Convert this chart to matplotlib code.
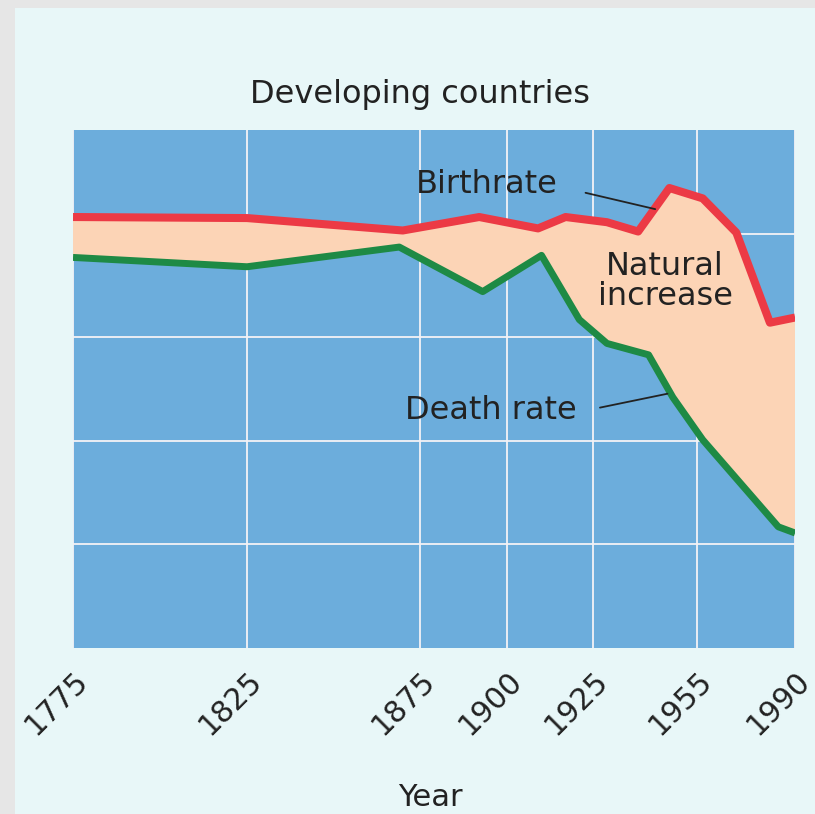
import numpy as np
import matplotlib
matplotlib.use("Agg")
import matplotlib.pyplot as plt
from matplotlib.patches import Rectangle

# ── Data (rates per 1000 population) ─────────────────────────────────────────
birth_years = [1775, 1825, 1870, 1892, 1909, 1917, 1929, 1938, 1947, 1957, 1969, 1981, 1990]
birth_rate  = [41.6, 41.5, 40.3, 41.6, 40.5, 41.6, 41.1, 40.2, 44.4, 43.4, 40.1, 31.4, 31.9]

death_years = [1775, 1825, 1869, 1893, 1910, 1921, 1929, 1941, 1948, 1957, 1984, 1990]
death_rate  = [37.7, 36.8, 38.7, 34.4, 37.9, 31.7, 29.4, 28.3, 24.2, 20.1, 11.7, 11.1]

tick_years = [1775, 1825, 1875, 1900, 1925, 1955, 1990]
tick_pos   = [0, 174, 347, 434, 520, 624, 722]   # uneven spacing of the year axis

# ── Palette ──────────────────────────────────────────────────────────────────
PAGE_BG  = "#E8F7F8"
BORDER   = "#E6E6E6"
PLOT_BG  = "#6CADDC"
GRID_C   = "#F4F2F6"
FILL_C   = "#FCD4B6"
BIRTH_C  = "#EC3A45"
DEATH_C  = "#1E8A45"
TEXT_C   = "#222222"

fig = plt.figure(figsize=(8.15, 8.14), dpi=100)
fig.patch.set_facecolor(PAGE_BG)
ax = fig.add_axes([0.0896, 0.2039, 0.886, 0.6364])


def fwd(x):
    return np.interp(x, tick_years, tick_pos)


def inv(x):
    return np.interp(x, tick_pos, tick_years)


ax.set_xscale("function", functions=(fwd, inv))
ax.set_xlim(1775, 1990)
ax.set_ylim(0, 50)
ax.set_facecolor(PLOT_BG)
for s in ax.spines.values():
    s.set_visible(False)

ax.set_axisbelow(True)
ax.set_xticks(tick_years)
ax.set_xticklabels([str(y) for y in tick_years], rotation=45, ha="right",
                   va="top", rotation_mode="anchor", fontsize=21.5, color=TEXT_C)
ax.set_yticks([10, 20, 30, 40])
ax.set_yticklabels([])
ax.tick_params(axis="x", length=0, pad=13)
ax.tick_params(axis="y", length=0)
ax.grid(True, color=GRID_C, lw=1.3)

# natural increase band between the two curves
poly_x = list(birth_years) + list(death_years[::-1])
poly_y = list(birth_rate) + list(death_rate[::-1])
ax.fill(poly_x, poly_y, color=FILL_C, lw=0, zorder=2)

ax.plot(birth_years, birth_rate, color=BIRTH_C, lw=5.8, zorder=3,
        solid_joinstyle="round", solid_capstyle="butt")
ax.plot(death_years, death_rate, color=DEATH_C, lw=5.0, zorder=3,
        solid_joinstyle="round", solid_capstyle="butt")

# ── Labels ───────────────────────────────────────────────────────────────────
ax.text(0.573, 0.894, "Birthrate", transform=ax.transAxes, fontsize=23,
        ha="center", va="center", color=TEXT_C, zorder=5)
ax.annotate("", xy=(0.810, 0.846), xytext=(0.706, 0.880),
            xycoords="axes fraction", textcoords="axes fraction",
            arrowprops=dict(arrowstyle="-", color="#222222", lw=1.3), zorder=5)

ax.text(0.820, 0.707, "Natural\nincrease", transform=ax.transAxes, fontsize=23,
        ha="center", va="center", color=TEXT_C, linespacing=0.95, zorder=5)

ax.text(0.578, 0.459, "Death rate", transform=ax.transAxes, fontsize=23,
        ha="center", va="center", color=TEXT_C, zorder=5)
ax.annotate("", xy=(0.827, 0.492), xytext=(0.726, 0.463),
            xycoords="axes fraction", textcoords="axes fraction",
            arrowprops=dict(arrowstyle="-", color="#222222", lw=1.3), zorder=5)

fig.text(0.515, 1 - 94 / 814, "Developing countries", ha="center", va="center",
         fontsize=23, color=TEXT_C)
fig.text(0.528, 1 - 798 / 814, "Year", ha="center", va="center",
         fontsize=22, color=TEXT_C)

# page border strips along the left and top edges
fig.patches.append(Rectangle((0, 0), 15 / 815, 1, transform=fig.transFigure,
                             facecolor=BORDER, edgecolor="none", zorder=10))
fig.patches.append(Rectangle((0, 1 - 8 / 814), 1, 8 / 814, transform=fig.transFigure,
                             facecolor=BORDER, edgecolor="none", zorder=10))

fig.savefig("out.png", dpi=100, facecolor=PAGE_BG)
